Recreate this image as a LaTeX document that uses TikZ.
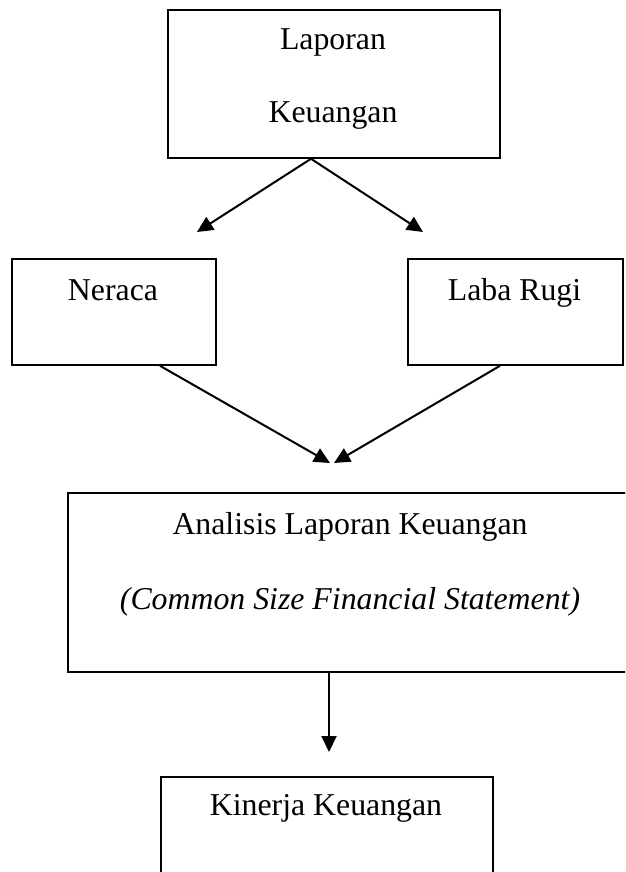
\documentclass[tikz,border=0pt]{standalone}
\usepackage{fontspec}
\setmainfont{Liberation Serif}
\usetikzlibrary{arrows.meta,calc}
\begin{document}
\begin{tikzpicture}[x=1pt,y=-1pt,
  box/.style={draw,line width=1.8pt,inner sep=0pt,anchor=north west},
  txt/.style={font=\fontsize{31.8}{38}\selectfont,inner sep=0pt,anchor=base},
  arr/.style={line width=2pt,-{Triangle[length=16pt,width=15pt]}}]
\useasboundingbox (0,0) rectangle (625,872);
\fill[white] (0,0) rectangle (625,872);
\clip (0,0) rectangle (625,872);
% boxes
\node[box,minimum width=332pt,minimum height=148pt] (lk) at (167,9) {};
\node[box,minimum width=204pt,minimum height=106pt] (ne) at (11,258) {};
\node[box,minimum width=215pt,minimum height=106pt] (lr) at (407,258) {};
\node[box,minimum width=580pt,minimum height=179pt] (an) at (67,492) {};
\node[box,minimum width=332pt,minimum height=130pt] (ki) at (160,776) {};
% texts
\node[txt] (t1) at (333,50) {Laporan};
\node[txt] (t2) at (333,122) {Keuangan};
\node[txt] (t3) at (113,300) {Neraca};
\node[txt] (t4) at (514.5,300) {Laba Rugi};
\node[txt] (t5) at (350,534) {Analisis Laporan Keuangan};
\node[txt] (t6) at (350,609) {\itshape (Common Size Financial Statement)};
\node[txt] (t7) at (326,815) {Kinerja Keuangan};
% connector points
\coordinate (lkout) at ($(lk.south west)+(144,0)$);
\coordinate (tipne) at (197,232);
\coordinate (tiplr) at (423,232);
\coordinate (neout) at ($(ne.south west)+(149,0)$);
\coordinate (lrout) at ($(lr.south west)+(93,0)$);
\coordinate (tipa1) at (330,463);
\coordinate (tipa2) at (334,463);
\coordinate (anout) at ($(an.south west)+(262,0)$);
\coordinate (tipki) at (329,752);
% connectors
\draw[arr] (lkout) -- (tipne);
\draw[arr] (lkout) -- (tiplr);
\draw[arr] (neout) -- (tipa1);
\draw[arr] (lrout) -- (tipa2);
\draw[arr] (anout) -- (tipki);
\end{tikzpicture}
\end{document}
